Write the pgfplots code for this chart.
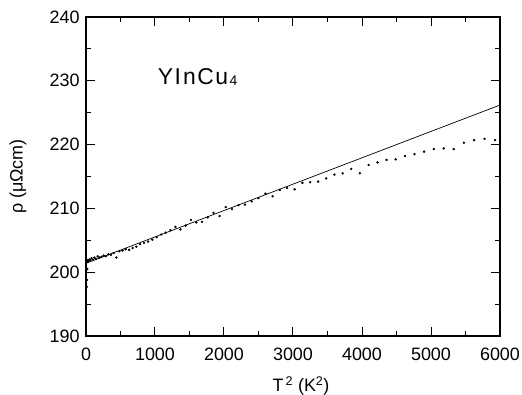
\documentclass[border=0pt]{standalone}
\usepackage{fontspec}
\setmainfont{Liberation Sans}
\usepackage{pgfplots}
\pgfplotsset{compat=1.18}
\begin{document}
\begin{tikzpicture}
\begin{axis}[
  scale only axis,
  width=414bp, height=319bp,
  xmin=0, xmax=6000, ymin=190, ymax=240,
  xtick={0,1000,...,6000}, ytick={190,200,...,240},
  minor xtick={500,1500,...,5500}, minor ytick={195,205,...,235},
  tick align=inside,
  major tick length=9bp, minor tick length=5bp,
  axis line style={line width=1.3bp},
  every tick/.style={line width=1bp, black},
  /pgf/number format/assume math mode=true,
  /pgf/number format/set thousands separator={},
  tick label style={font=\fontsize{18}{21}\selectfont},
  xticklabel style={yshift=-8bp},
  yticklabel style={xshift=-3bp},
  xlabel={T\textsuperscript{\,2} (K\textsuperscript{2})},
  ylabel={ρ (μΩcm)},
  label style={font=\fontsize{18}{21}\selectfont},
  xlabel style={at={(rel axis cs:0.5,0)}, anchor=north, yshift=-37bp, xshift=8bp},
  ylabel style={at={(rel axis cs:0,0.5)}, anchor=center, yshift=68bp},
  clip=false,
]
\addplot[black, line width=0.7bp] coordinates {(0,201.4) (6000,226.2)};
\addplot[only marks, mark=*, mark size=1bp, black] coordinates {
(12,197.7) (14,198.8) (18,200.5) (20,201.6) (25,201.9) (36,201.7) (49,202.0)
(64,201.9) (81,202.2) (100,202.0) (121,202.3) (144,202.1) (169,202.5)
(196,202.3) (225,202.4) (256,202.6) (289,202.5) (324,202.8) (361,202.7)
(400,203.0) (441,202.3) (484,203.3) (529,203.4) (576,203.6) (625,203.5)
(676,203.8) (729,204.0) (784,204.4) (841,204.6) (900,204.8) (961,205.1)
(1024,205.5) (1089,205.9) (1156,206.2) (1225,206.6) (1296,207.1)
(1369,206.7) (1444,207.3) (1521,208.2) (1600,207.8) (1681,207.9)
(1764,208.6) (1849,209.3) (1936,208.8) (2025,210.2) (2116,209.9)
(2209,210.5) (2304,210.6) (2401,211.1) (2500,211.6) (2601,212.3)
(2704,211.9) (2809,212.9) (2916,213.2) (3025,213.0) (3136,214.0)
(3249,214.1) (3364,214.2) (3481,214.7) (3600,215.3) (3721,215.5)
(3844,216.2) (3969,215.5) (4096,216.8) (4225,217.2) (4356,217.6)
(4489,217.7) (4624,218.2) (4761,218.5) (4900,218.9) (5041,219.3)
(5184,219.4) (5329,219.3) (5476,220.3) (5625,220.7) (5776,220.9)
(5929,220.7)
};
\node[anchor=west, inner sep=0pt, font=\fontsize{23}{26}\selectfont] at (axis cs:1040,230.6)
  {Y\kern1.5bp I\kern2bp n\kern1.5bp C\kern1.5bp u\kern1.5bp{\fontsize{14}{14}\selectfont\raisebox{-0.8bp}{4}}};
\end{axis}
\pgfresetboundingbox
\path (-86bp,-59bp) rectangle (436bp,336bp);
\end{tikzpicture}
\end{document}
